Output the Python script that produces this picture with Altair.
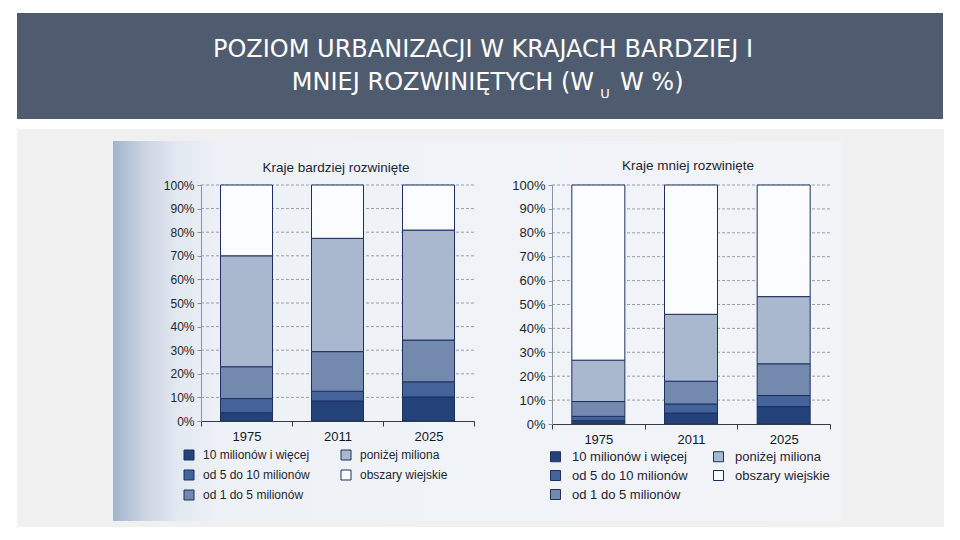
import altair as alt
import pandas as pd

years = ["1975", "2011", "2025"]
categories = ["10 milionów i więcej", "od 5 do 10 milionów", "od 1 do 5 milionów",
              "poniżej miliona", "obszary wiejskie"]
category_colors = ["#23427a", "#44639a", "#7489ae", "#a9b8cf", "#fbfcfe"]

# Kraje bardziej rozwinięte (share of population, %)
dev_10plus = [3.5, 8.5, 10.2]
dev_5to10 = [6.0, 4.1, 6.4]
dev_1to5 = [13.5, 16.8, 17.7]
dev_below1 = [47.0, 48.0, 46.6]
dev_rural = [30.0, 22.6, 19.1]

# Kraje mniej rozwinięte (share of population, %)
less_10plus = [1.4, 4.6, 7.3]
less_5to10 = [1.8, 3.8, 4.6]
less_1to5 = [6.2, 9.5, 13.3]
less_below1 = [17.3, 28.0, 28.1]
less_rural = [73.3, 54.1, 46.7]

pct_ticks = [0, 10, 20, 30, 40, 50, 60, 70, 80, 90, 100]

INK = "#1d3160"
TXT = "#1e2430"


def table(series):
    rows = []
    for ci, (cat, vals) in enumerate(zip(categories, series)):
        for y, v in zip(years, vals):
            rows.append({"year": y, "cat": cat, "value": v, "o": ci})
    return pd.DataFrame(rows)


def panel(series, title, w, h, fs, lfs, bar_w, title_x, title_y, lx, ly, col_pad, loff, rpad,
          deco=None):
    df = table(series)
    yscale = alt.Scale(domain=[0, 100], nice=False, zero=True)
    yaxis = alt.Axis(values=pct_ticks, labelExpr="datum.value + '%'", grid=False, title=None,
                     labelFontSize=fs, labelColor=TXT, labelFont="Liberation Sans",
                     domainColor="#8a93a3", tickColor="#8a93a3", tickSize=4, labelPadding=3,
                     zindex=1)
    xaxis = alt.Axis(title=None, labelAngle=0, labelFontSize=13, labelColor="#111827",
                     labelFont="Liberation Sans", tickBand="extent", domainColor="#333a48",
                     tickColor="#333a48", tickSize=5, labelPadding=4, zindex=1)
    grid = alt.Chart(pd.DataFrame({"value": pct_ticks[1:]})).mark_rule(
        strokeDash=[3, 2], color="#7f899b", strokeWidth=0.8
    ).encode(y=alt.Y("value:Q", scale=yscale, axis=yaxis))
    bars = alt.Chart(df).mark_bar(size=bar_w, stroke=INK, strokeWidth=1).encode(
        x=alt.X("year:N", sort=years, scale=alt.Scale(paddingInner=0, paddingOuter=0), axis=xaxis),
        y=alt.Y("value:Q", stack="zero", scale=yscale, axis=yaxis),
        color=alt.Color("cat:N", scale=alt.Scale(domain=categories, range=category_colors),
                        legend=alt.Legend(orient="none", legendX=lx, legendY=ly, columns=2,
                                          title=None, symbolType="square", symbolSize=100,
                                          symbolStrokeColor=INK, symbolStrokeWidth=1,
                                          labelFontSize=lfs, labelFont="Liberation Sans",
                                          labelColor=TXT, labelOffset=loff, rowPadding=rpad,
                                          columnPadding=col_pad, padding=0)),
        order=alt.Order("o:Q"),
    )
    one = pd.DataFrame({"a": [0]})
    ttl = alt.Chart(one).mark_text(text=title, font="Liberation Sans", fontSize=13.5,
                                   color=TXT, align="center", baseline="alphabetic").encode(
        x=alt.value(title_x), y=alt.value(title_y))
    layers = (deco or []) + [grid, bars, ttl]
    return alt.layer(*layers).properties(width=w, height=h)


one = pd.DataFrame({"a": [0]})
banner = alt.Chart(one).mark_rect(color="#4f5b6e").encode(
    x=alt.value(-184), x2=alt.value(742), y=alt.value(-172), y2=alt.value(-66))
gray = alt.Chart(one).mark_rect(color="#f0f0f0").encode(
    x=alt.value(-184), x2=alt.value(743), y=alt.value(-56), y2=alt.value(342))
scan = alt.Chart(one).mark_rect(
    color=alt.LinearGradient(
        gradient="linear", x1=0, x2=1, y1=0, y2=0,
        stops=[alt.GradientStop(offset=0, color="#a3b4cb"),
               alt.GradientStop(offset=0.04, color="#c8d3e2"),
               alt.GradientStop(offset=0.09, color="#e3e9f1"),
               alt.GradientStop(offset=0.15, color="#eef2f7"),
               alt.GradientStop(offset=1, color="#f2f4f8")])
).encode(x=alt.value(-88), x2=alt.value(640), y=alt.value(-44), y2=alt.value(336))

HF = "DejaVu Sans"
line1 = alt.Chart(one).mark_text(text="POZIOM URBANIZACJI   W KRAJACH BARDZIEJ I", font=HF,
                                 fontSize=24, color="white", align="center",
                                 baseline="alphabetic").encode(x=alt.value(282), y=alt.value(-128))
line2a = alt.Chart(one).mark_text(text="MNIEJ ROZWINIĘTYCH (W", font=HF, fontSize=24,
                                  color="white", align="right",
                                  baseline="alphabetic").encode(x=alt.value(393), y=alt.value(-95))
sub = alt.Chart(one).mark_text(text="U", font=HF, fontSize=13, color="white",
                               align="center", baseline="alphabetic").encode(
    x=alt.value(404), y=alt.value(-87))
line2b = alt.Chart(one).mark_text(text="W %)", font=HF, fontSize=24,
                                  color="white", align="left", baseline="alphabetic").encode(
    x=alt.value(419), y=alt.value(-95))

left = panel([dev_10plus, dev_5to10, dev_1to5, dev_below1, dev_rural],
             "Kraje bardziej rozwinięte", 273, 236, 12, 12, 52, 135, -13.5, -18, 264, 29, 8, 6,
             deco=[banner, gray, scan, line1, line2a, sub, line2b])
right = panel([less_10plus, less_5to10, less_1to5, less_below1, less_rural],
              "Kraje mniej rozwinięte", 278, 239, 13, 13, 53, 136, -15, -3, 265, 23, 10, 4)

chart = alt.hconcat(left, right, spacing=78, bounds="flush").resolve_scale(
    color="independent", y="independent", x="independent"
).resolve_legend(color="independent").properties(
    padding={"left": 8, "top": 4, "right": 0, "bottom": 0}, background="white"
).configure_view(stroke="transparent")

chart.save("out.html", embed_options={"renderer": "svg", "actions": False})
